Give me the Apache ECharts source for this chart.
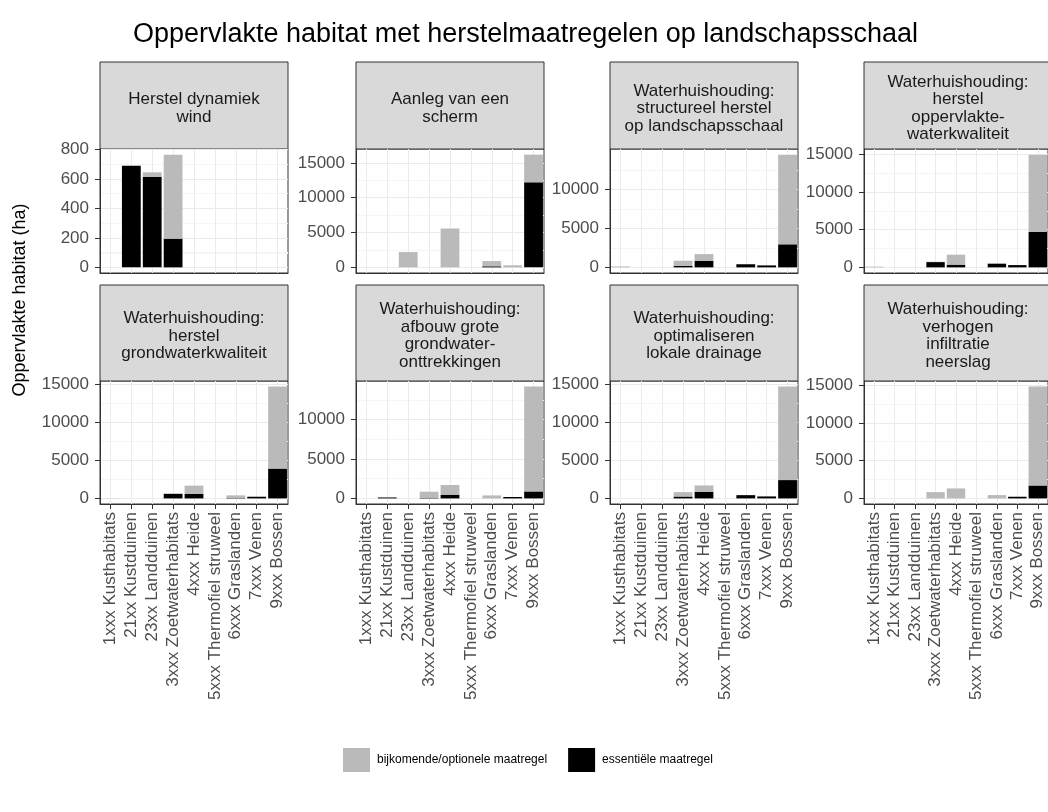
<!DOCTYPE html>
<html>
<head>
<meta charset="utf-8">
<script src="https://cdn.jsdelivr.net/npm/echarts@6/dist/echarts.min.js"></script>
<style>
html, body { margin: 0; padding: 0; background: #fff; }
#chart { width: 1048px; height: 812px; }
</style>
</head>
<body>
<div id="chart"></div>
<script>
// habitat types, same for every panel
const categories = ['1xxx Kusthabitats', '21xx Kustduinen', '23xx Landduinen', '3xxx Zoetwaterhabitats',
  '4xxx Heide', '5xxx Thermofiel struweel', '6xxx Graslanden', '7xxx Venen', '9xxx Bossen']

const facetTitles = [
  'Herstel dynamiek\nwind',
  'Aanleg van een\nscherm',
  'Waterhuishouding:\nstructureel herstel\nop landschapsschaal',
  'Waterhuishouding:\nherstel\noppervlakte-\nwaterkwaliteit',
  'Waterhuishouding:\nherstel\ngrondwaterkwaliteit',
  'Waterhuishouding:\nafbouw grote\ngrondwater-\nonttrekkingen',
  'Waterhuishouding:\noptimaliseren\nlokale drainage',
  'Waterhuishouding:\nverhogen\ninfiltratie\nneerslag'
]

// ha per habitat type: essential (black) and additional/optional (grey)
const windEss = [0, 690, 615, 195, 0, 0, 0, 0, 0]
const windBij = [0, 0, 30, 570, 0, 0, 0, 0, 0]
const schermEss = [0, 0, 0, 0, 0, 0, 150, 0, 12200]
const schermBij = [0, 0, 2200, 0, 5580, 0, 750, 300, 3980]
const structEss = [0, 0, 0, 200, 850, 0, 400, 250, 2950]
const structBij = [120, 0, 0, 650, 850, 0, 0, 0, 11500]
const oppEss = [0, 0, 0, 700, 360, 0, 490, 300, 4700]
const oppBij = [100, 0, 0, 50, 1320, 0, 0, 0, 10250]
const grondEss = [0, 0, 0, 600, 580, 0, 50, 220, 3920]
const grondBij = [30, 0, 0, 50, 1100, 0, 350, 0, 10780]
const afbouwEss = [0, 120, 0, 50, 470, 0, 0, 180, 890]
const afbouwBij = [0, 0, 0, 800, 1230, 0, 380, 0, 13280]
const drainEss = [0, 0, 0, 250, 880, 0, 430, 260, 2410]
const drainBij = [0, 0, 0, 580, 830, 0, 0, 0, 12320]
const infiltEss = [0, 0, 0, 0, 0, 0, 0, 220, 1710]
const infiltBij = [0, 0, 0, 830, 1320, 0, 440, 0, 13090]

// y tick labels per panel
const ticks800 = [0, 200, 400, 600, 800]
const ticks10k = [0, 5000, 10000]
const ticks15k = [0, 5000, 10000, 15000]

const panels = [
  { ess: windEss, bij: windBij, ticks: ticks800 },
  { ess: schermEss, bij: schermBij, ticks: ticks15k },
  { ess: structEss, bij: structBij, ticks: ticks10k },
  { ess: oppEss, bij: oppBij, ticks: ticks15k },
  { ess: grondEss, bij: grondBij, ticks: ticks15k },
  { ess: afbouwEss, bij: afbouwBij, ticks: ticks10k },
  { ess: drainEss, bij: drainBij, ticks: ticks15k },
  { ess: infiltEss, bij: infiltBij, ticks: ticks15k }
]

const FONT = '"Liberation Sans", Arial, sans-serif'
const colLeft = [100, 356, 610, 864]
const panelW = 188
const rows = [
  { stripTop: 62, top: 149, height: 124 },
  { stripTop: 285, top: 381, height: 123 }
]

const grids = []
const xAxes = []
const yAxes = []
const series = []
const graphics = []

panels.forEach((p, i) => {
  const r = Math.floor(i / 4)
  const c = i % 4
  const row = rows[r]
  const totalMax = Math.max(...p.ess.map((v, k) => v + p.bij[k]))
  const yMin = -0.05 * totalMax
  const yMax = 1.05 * totalMax
  const step = p.ticks[1] - p.ticks[0]
  const minorTicks = [-1, ...p.ticks].map(v => v + step / 2)

  grids.push({
    left: colLeft[c], top: row.top, width: panelW, height: row.height,
    show: true, backgroundColor: '#fff', borderColor: '#333', borderWidth: 1
  })

  xAxes.push({
    type: 'category', gridIndex: i, data: categories,
    axisLine: { onZero: false, lineStyle: { color: '#333', width: 1 } },
    axisTick: { show: r === 1, alignWithLabel: true, length: 5, lineStyle: { color: '#333' } },
    axisLabel: {
      show: r === 1, rotate: 90, interval: 0, margin: 8,
      fontSize: 17, color: '#4d4d4d', fontFamily: FONT
    },
    splitLine: { show: true, alignWithLabel: true, lineStyle: { color: '#ebebeb', width: 1 } }
  })

  // minor grid lines (ggplot style), drawn first
  yAxes.push({
    type: 'value', gridIndex: i, min: yMin, max: yMax,
    axisLine: { show: false }, axisLabel: { show: false },
    axisTick: { show: false, customValues: minorTicks },
    splitLine: { show: true, lineStyle: { color: '#f5f5f5', width: 1 } }
  })
  yAxes.push({
    type: 'value', gridIndex: i, min: yMin, max: yMax, position: 'left',
    axisLine: { show: true, onZero: false, lineStyle: { color: '#333', width: 1 } },
    axisTick: { show: true, length: 5, customValues: p.ticks, lineStyle: { color: '#333' } },
    axisLabel: {
      customValues: p.ticks, fontSize: 17, color: '#4d4d4d', margin: 11, fontFamily: FONT,
      formatter: v => String(v)
    },
    splitLine: { show: true, lineStyle: { color: '#ebebeb', width: 1 } }
  })

  series.push({
    type: 'bar', name: 'essentiële maatregel', xAxisIndex: i, yAxisIndex: 2 * i + 1,
    stack: 'p' + i, data: p.ess, barWidth: '90%', itemStyle: { color: '#000' }
  })
  series.push({
    type: 'bar', name: 'bijkomende/optionele maatregel', xAxisIndex: i, yAxisIndex: 2 * i + 1,
    stack: 'p' + i, data: p.bij, barWidth: '90%', itemStyle: { color: '#bababa' }
  })

  // facet strip
  graphics.push({
    type: 'rect',
    shape: { x: colLeft[c], y: row.stripTop, width: panelW, height: row.top - row.stripTop },
    style: { fill: '#d9d9d9', stroke: '#333', lineWidth: 1 }
  })
  graphics.push({
    type: 'text',
    x: colLeft[c] + panelW / 2,
    y: (row.stripTop + row.top) / 2 + 3,
    style: {
      text: facetTitles[i], fill: '#1a1a1a', font: '17px ' + FONT,
      align: 'center', verticalAlign: 'middle', lineHeight: 17.5
    }
  })
})

graphics.push({
  type: 'text', x: 20, y: 300, rotation: Math.PI / 2,
  style: {
    text: 'Oppervlakte habitat (ha)', fill: '#000', font: '18px ' + FONT,
    align: 'center', verticalAlign: 'middle'
  }
})

const chart = echarts.init(document.getElementById('chart'), null, { renderer: 'canvas' })
chart.setOption({
  animation: false,
  backgroundColor: '#fff',
  title: {
    text: 'Oppervlakte habitat met herstelmaatregelen op landschapsschaal',
    left: 133, top: 21, padding: 0,
    textStyle: { fontSize: 27, fontWeight: 'normal', color: '#000', fontFamily: FONT }
  },
  legend: {
    data: ['bijkomende/optionele maatregel', 'essentiële maatregel'],
    left: 343, top: 748, padding: 0, icon: 'rect', itemWidth: 27, itemHeight: 24, itemGap: 21,
    selectedMode: false,
    textStyle: { fontSize: 12, color: '#000', fontFamily: FONT, padding: [0, 0, 0, 2] }
  },
  grid: grids,
  xAxis: xAxes,
  yAxis: yAxes,
  series: series,
  graphic: graphics
})

window.addEventListener('resize', () => chart.resize())
</script>
</body>
</html>
